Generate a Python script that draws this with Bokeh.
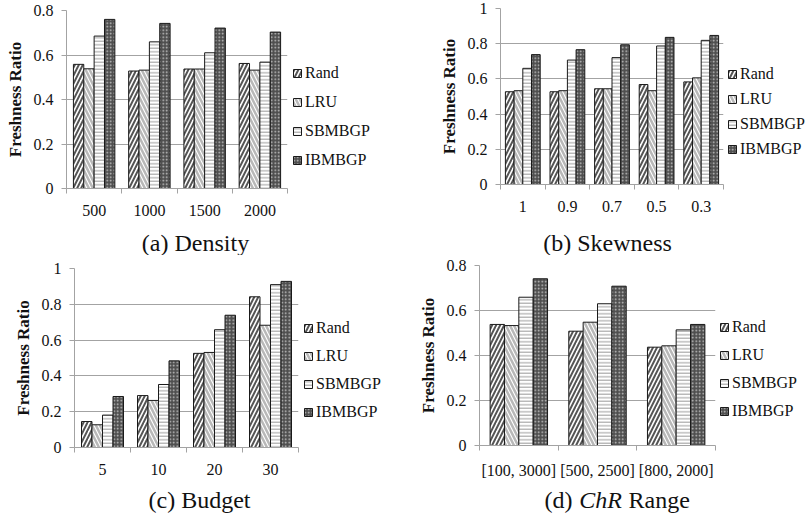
from bokeh.plotting import figure
from bokeh.models import (ColumnDataSource, Range1d, LinearAxis, FixedTicker, Grid,
                          PrintfTickFormatter, Legend, LegendItem, Label)
from bokeh.layouts import row, column
from bokeh.embed import file_html
from bokeh.resources import INLINE

# ---------------- data ----------------
series_names = ["Rand", "LRU", "SBMBGP", "IBMBGP"]

density_cats = ["500", "1000", "1500", "2000"]
density_rand = [0.558, 0.528, 0.537, 0.562]
density_lru = [0.538, 0.532, 0.537, 0.532]
density_sb = [0.685, 0.659, 0.610, 0.568]
density_ib = [0.760, 0.742, 0.721, 0.703]

skew_cats = ["1", "0.9", "0.7", "0.5", "0.3"]
skew_rand = [0.527, 0.527, 0.544, 0.568, 0.583]
skew_lru = [0.533, 0.533, 0.544, 0.533, 0.606]
skew_sb = [0.660, 0.707, 0.721, 0.787, 0.819]
skew_ib = [0.738, 0.766, 0.794, 0.836, 0.847]

budget_cats = ["5", "10", "20", "30"]
budget_rand = [0.145, 0.290, 0.526, 0.842]
budget_lru = [0.127, 0.263, 0.531, 0.683]
budget_sb = [0.181, 0.352, 0.658, 0.910]
budget_ib = [0.285, 0.484, 0.739, 0.928]

chr_cats = ["[100, 3000]", "[500, 2500]", "[800, 2000]"]
chr_rand = [0.538, 0.508, 0.437]
chr_lru = [0.533, 0.548, 0.443]
chr_sb = [0.659, 0.630, 0.514]
chr_ib = [0.741, 0.708, 0.538]

ticks_08 = [0, 0.2, 0.4, 0.6, 0.8]
ticks_10 = [0, 0.2, 0.4, 0.6, 0.8, 1.0]

# ---------------- styles ----------------
FONT = "Liberation Serif"
GRAY = "#a3a3a3"
TXT = "#111111"
styles = [
    dict(fill_color="white", hatch_pattern="/", hatch_color="#555555", hatch_weight=2.0, hatch_scale=8),
    dict(fill_color="white", hatch_pattern="\\", hatch_color="#b8b8b8", hatch_weight=2.5, hatch_scale=8),
    dict(fill_color="white", hatch_pattern="-", hatch_color="#9a9a9a", hatch_weight=1.0, hatch_scale=3.5),
    dict(fill_color="#4f4f4f", hatch_pattern=".", hatch_color="#c8c8c8", hatch_weight=1.5, hatch_scale=3.5),
]


def bare_fig(W, H, xr, yr):
    return figure(width=W, height=H, x_range=xr, y_range=yr,
                  output_backend="svg", toolbar_location=None,
                  x_axis_type=None, y_axis_type=None, min_border=0,
                  min_border_left=0, min_border_right=0, min_border_top=0, min_border_bottom=0,
                  outline_line_color=None, background_fill_color="white", border_fill_color="white")


def chart(cats, series, ymax, yticks, L, fw, R, T, fh, B, group_w):
    n = len(cats)
    p = figure(width=L + fw + R, height=T + fh + B, x_range=Range1d(0, n), y_range=Range1d(0, ymax),
               output_backend="svg", toolbar_location=None,
               x_axis_type=None, y_axis_type=None,
               min_border_left=L, min_border_right=R, min_border_top=T, min_border_bottom=B,
               outline_line_color=None, background_fill_color="white", border_fill_color="white")

    yaxis = LinearAxis(ticker=FixedTicker(ticks=yticks), formatter=PrintfTickFormatter(format="%g"),
                       axis_label="Freshness Ratio")
    yaxis.axis_line_color = GRAY
    yaxis.major_tick_line_color = GRAY
    yaxis.major_tick_out = 5
    yaxis.major_tick_in = 0
    yaxis.minor_tick_line_color = None
    yaxis.major_label_text_font = FONT
    yaxis.major_label_text_font_size = "16px"
    yaxis.major_label_text_color = TXT
    yaxis.major_label_standoff = 8
    yaxis.axis_label_text_font = FONT
    yaxis.axis_label_text_font_style = "bold"
    yaxis.axis_label_text_font_size = "17px"
    yaxis.axis_label_text_color = TXT
    yaxis.axis_label_standoff = 6
    p.add_layout(yaxis, "left")

    centers = [i + 0.5 for i in range(n)]
    bounds = [float(i) for i in range(n + 1)]
    xaxis = LinearAxis(ticker=FixedTicker(ticks=centers, minor_ticks=bounds),
                       major_label_overrides={c: lab for c, lab in zip(centers, cats)})
    xaxis.axis_line_color = GRAY
    xaxis.major_tick_line_color = None
    xaxis.major_tick_out = 0
    xaxis.major_tick_in = 0
    xaxis.minor_tick_line_color = GRAY
    xaxis.minor_tick_out = 5
    xaxis.minor_tick_in = 0
    xaxis.major_label_text_font = FONT
    xaxis.major_label_text_font_size = "16px"
    xaxis.major_label_text_color = TXT
    xaxis.major_label_standoff = 11
    p.add_layout(xaxis, "below")

    p.add_layout(Grid(dimension=1, ticker=yaxis.ticker, grid_line_color=GRAY, grid_line_width=1))

    bw = group_w / 4.0
    sources = []
    for k, vals in enumerate(series):
        off = (k - 1.5) * bw
        src = ColumnDataSource(dict(x=[c + off for c in centers], top=vals))
        p.vbar(x="x", top="top", bottom=0, width=bw, source=src,
               line_color="#1a1a1a", line_width=1, **styles[k])
        sources.append(src)
    return p, sources


def legend_fig(W, H, sources, bottom, spacing):
    # frame of this figure is aligned with the neighbouring chart's frame by the row layout
    f = bare_fig(W, H, Range1d(0, W), Range1d(0, H))
    items = []
    for k, name in enumerate(series_names):
        r = f.vbar(x="x", top="top", width=1, source=sources[k], visible=False,
                   line_color="#1a1a1a", line_width=1, **styles[k])
        items.append(LegendItem(label=name, renderers=[r]))
    leg = Legend(items=items, location=(0, bottom), glyph_width=10, glyph_height=10,
                 label_text_font=FONT, label_text_font_size="16px", label_text_color=TXT,
                 label_standoff=3, spacing=spacing, padding=0, margin=0,
                 inactive_fill_alpha=0.0,
                 border_line_color=None, background_fill_alpha=0)
    f.add_layout(leg, "center")
    return f


def caption_fig(W, H, parts, ymid):
    f = bare_fig(W, H, Range1d(0, W), Range1d(0, H))
    for (txt, x, align, style) in parts:
        f.add_layout(Label(x=x, y=ymid, text=txt, text_font=FONT, text_font_size="24px",
                           text_font_style=style, text_align=align, text_baseline="middle",
                           text_color=TXT))
    return f


# (a) Density
ca, sa = chart(density_cats, [density_rand, density_lru, density_sb, density_ib], 0.8, ticks_08,
               66, 221, 5, 10, 178, 40, 0.75)
la = legend_fig(108, 228, sa, 19, 11)
pa = column(row(ca, la), caption_fig(400, 27, [("(a) Density", 195, "center", "normal")], 13))

# (b) Skewness
cb, sb = chart(skew_cats, [skew_rand, skew_lru, skew_sb, skew_ib], 1.0, ticks_10,
               100, 223, 4, 8, 176, 44, 0.78)
lb = legend_fig(84, 228, sb, 26, 7)
pb = column(row(cb, lb), caption_fig(411, 27, [("(b) Skewness", 207, "center", "normal")], 13))

# (c) Budget
cc, sc = chart(budget_cats, [budget_rand, budget_lru, budget_sb, budget_ib], 1.0, ticks_10,
               74, 224, 5, 13, 179, 40, 0.75)
lc = legend_fig(97, 232, sc, 26, 10)
pc = column(row(cc, lc), caption_fig(400, 31, [("(c) Budget", 199, "center", "normal")], 19))

# (d) ChR Range
cd, sd = chart(chr_cats, [chr_rand, chr_lru, chr_sb, chr_ib], 0.8, ticks_08,
               79, 236, 4, 10, 180, 42, 0.73)
ld = legend_fig(92, 232, sd, 25, 10)
pd_ = column(row(cd, ld), caption_fig(411, 31, [("(d)", 172, "right", "normal"),
                                                ("ChR", 200, "center", "italic"),
                                                ("Range", 228, "left", "normal")], 19))

layout = column(row(pa, pb), row(pc, pd_))
open("out.html", "w").write(file_html(layout, INLINE))
